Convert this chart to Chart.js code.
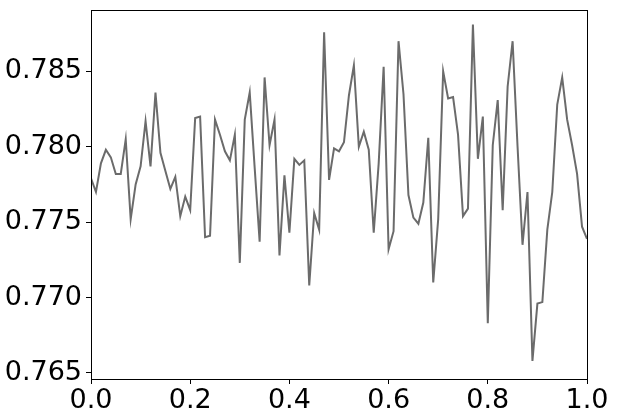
<!DOCTYPE html>
<html>
<head>
<meta charset="utf-8">
<script src="https://cdn.jsdelivr.net/npm/chart.js@4"></script>
<style>
  body { margin: 0; background: #fff; }
  canvas { display: block; }
</style>
</head>
<body>
<canvas id="lineChart" width="619" height="415"></canvas>
<script>
// x positions of the samples (0 to 1 in steps of 0.01)
const xValues = [
  0.00, 0.01, 0.02, 0.03, 0.04, 0.05, 0.06, 0.07, 0.08, 0.09,
  0.10, 0.11, 0.12, 0.13, 0.14, 0.15, 0.16, 0.17, 0.18, 0.19,
  0.20, 0.21, 0.22, 0.23, 0.24, 0.25, 0.26, 0.27, 0.28, 0.29,
  0.30, 0.31, 0.32, 0.33, 0.34, 0.35, 0.36, 0.37, 0.38, 0.39,
  0.40, 0.41, 0.42, 0.43, 0.44, 0.45, 0.46, 0.47, 0.48, 0.49,
  0.50, 0.51, 0.52, 0.53, 0.54, 0.55, 0.56, 0.57, 0.58, 0.59,
  0.60, 0.61, 0.62, 0.63, 0.64, 0.65, 0.66, 0.67, 0.68, 0.69,
  0.70, 0.71, 0.72, 0.73, 0.74, 0.75, 0.76, 0.77, 0.78, 0.79,
  0.80, 0.81, 0.82, 0.83, 0.84, 0.85, 0.86, 0.87, 0.88, 0.89,
  0.90, 0.91, 0.92, 0.93, 0.94, 0.95, 0.96, 0.97, 0.98, 0.99,
  1.00
];

// series values
const yValues = [
  0.7779, 0.7770, 0.7789, 0.7798, 0.7793, 0.7782, 0.7782, 0.7805, 0.7752, 0.7775,
  0.7787, 0.7817, 0.7787, 0.7836, 0.7796, 0.7784, 0.7772, 0.7780, 0.7754, 0.7767,
  0.7758, 0.7819, 0.7820, 0.7740, 0.7741, 0.7818, 0.7808, 0.7797, 0.7791, 0.7808,
  0.7723, 0.7818, 0.7836, 0.7786, 0.7737, 0.7846, 0.7801, 0.7818, 0.7728, 0.7781,
  0.7743, 0.7792, 0.7788, 0.7791, 0.7708, 0.7756, 0.7745, 0.7876, 0.7778, 0.7799,
  0.7797, 0.7803, 0.7834, 0.7854, 0.7800, 0.7810, 0.7798, 0.7743, 0.7789, 0.7853,
  0.7732, 0.7744, 0.7870, 0.7835, 0.7768, 0.7753, 0.7749, 0.7763, 0.7806, 0.7710,
  0.7752, 0.7850, 0.7832, 0.7833, 0.7808, 0.7754, 0.7759, 0.7881, 0.7792, 0.7820,
  0.7683, 0.7801, 0.7831, 0.7758, 0.7840, 0.7870, 0.7800, 0.7735, 0.7770, 0.7658,
  0.7696, 0.7697, 0.7745, 0.7770, 0.7828, 0.7846, 0.7818, 0.7801, 0.7782, 0.7747,
  0.7739
];

// tick labels
const xTicks = [0.0, 0.2, 0.4, 0.6, 0.8, 1.0];
const yTicks = [0.765, 0.770, 0.775, 0.780, 0.785];

const points = xValues.map((x, i) => ({ x: x, y: yValues[i] }));

// Draw the top and right edges so the plot has a full frame
const frameBox = {
  id: "frameBox",
  afterDraw(chart) {
    const { ctx, chartArea } = chart;
    ctx.save();
    ctx.strokeStyle = "#000";
    ctx.lineWidth = 1;
    ctx.strokeRect(
      Math.round(chartArea.left) + 0.5,
      Math.round(chartArea.top) + 0.5,
      Math.round(chartArea.right - chartArea.left),
      Math.round(chartArea.bottom - chartArea.top)
    );
    ctx.restore();
  },
};

const tickFont = { family: "'DejaVu Sans'", size: 27 };

new Chart(document.getElementById("lineChart"), {
  type: "line",
  data: {
    datasets: [
      {
        data: points,
        borderColor: "#6b6b6b",
        borderWidth: 2,
        pointRadius: 0,
        tension: 0,
        fill: false,
      },
    ],
  },
  options: {
    responsive: false,
    animation: false,
    layout: { padding: { top: 10, right: 32, left: 0, bottom: 0 } },
    plugins: {
      legend: { display: false },
      tooltip: { enabled: false },
    },
    scales: {
      x: {
        type: "linear",
        min: 0,
        max: 1,
        afterFit(scale) {
          scale.height = 36;
          scale.paddingLeft = 0;
          scale.paddingRight = 0;
        },
        afterBuildTicks(scale) {
          scale.ticks = xTicks.map((v) => ({ value: v }));
        },
        ticks: {
          color: "#000",
          font: tickFont,
          padding: 1,
          maxRotation: 0,
          callback: (v) => Number(v).toFixed(1),
        },
        grid: {
          drawOnChartArea: false,
          drawTicks: true,
          tickLength: 5,
          color: "#000",
        },
        border: { display: true, color: "#000", width: 1 },
      },
      y: {
        type: "linear",
        min: 0.7646,
        max: 0.78907,
        afterFit(scale) {
          scale.width = 91;
          scale.paddingTop = 0;
          scale.paddingBottom = 0;
        },
        afterBuildTicks(scale) {
          scale.ticks = yTicks.map((v) => ({ value: v }));
        },
        ticks: {
          color: "#000",
          font: tickFont,
          padding: 4,
          callback: (v) => Number(v).toFixed(3),
        },
        grid: {
          drawOnChartArea: false,
          drawTicks: true,
          tickLength: 5,
          color: "#000",
        },
        border: { display: true, color: "#000", width: 1 },
      },
    },
  },
  plugins: [frameBox],
});
</script>
</body>
</html>
